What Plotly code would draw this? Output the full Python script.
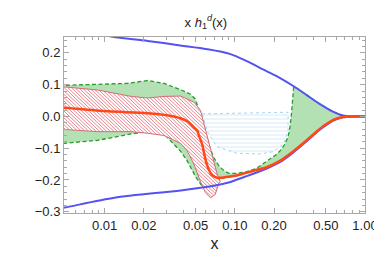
import numpy as np
import plotly.graph_objects as go

# ---------------- data ----------------
# blue upper bound curve
bu_x = [0.0105, 0.0122, 0.0214, 0.0381, 0.0613, 0.0916, 0.1236, 0.1665, 0.2093, 0.2834, 0.355, 0.445, 0.566, 0.675, 0.804, 1.0]
bu_y = [0.254, 0.249, 0.2376, 0.2236, 0.2118, 0.197, 0.174, 0.147, 0.127, 0.095, 0.068, 0.04, 0.015, 0.003, 0.0, 0.0]

# blue lower bound curve
bl_x = [0.0045, 0.0049, 0.0119, 0.0384, 0.0689, 0.0911, 0.1236, 0.176, 0.222, 0.2806, 0.355, 0.447, 0.566, 0.675, 0.804, 1.0]
bl_y = [-0.289, -0.287, -0.256, -0.233, -0.218, -0.207, -0.188, -0.164, -0.144, -0.114, -0.079, -0.043, -0.014, -0.003, 0.0, 0.0]

# red central curve
rc_x = [0.0045, 0.0049, 0.0106, 0.0214, 0.0341, 0.0431, 0.0485, 0.0515, 0.053, 0.0563, 0.0595, 0.0632, 0.0669, 0.0731,
        0.0774, 0.09, 0.1035, 0.139, 0.176, 0.222, 0.2806, 0.355, 0.447, 0.566, 0.675, 0.804, 1.0]
rc_y = [0.028, 0.027, 0.016, 0.01, 0.0, -0.015, -0.035, -0.045, -0.06, -0.09, -0.135, -0.168, -0.185, -0.193,
        -0.193, -0.19, -0.186, -0.171, -0.16, -0.14, -0.11, -0.076, -0.04, -0.012, -0.002, 0.0, 0.0]

# red hatched band (upper edge left->right, lower edge)
rb_up_x = [0.0045, 0.0049, 0.0089, 0.016, 0.0214, 0.0286, 0.0384, 0.0457, 0.0485, 0.0545, 0.0578, 0.0649, 0.0731, 0.0774]
rb_up_y = [0.094, 0.093, 0.083, 0.063, 0.058, 0.063, 0.064, 0.05, 0.045, 0.019, -0.022, -0.101, -0.181, -0.205]
rb_lo_x = [0.0045, 0.0049, 0.0089, 0.016, 0.0214, 0.0286, 0.0384, 0.0431, 0.0485, 0.0545, 0.0595, 0.065, 0.0707, 0.0752]
rb_lo_y = [-0.04, -0.04, -0.048, -0.048, -0.053, -0.06, -0.085, -0.108, -0.15, -0.205, -0.24, -0.256, -0.246, -0.211]

# green band: upper (dashed) edge, lower (dashed) edge
gb_up_x = [0.0045, 0.0049, 0.0089, 0.015, 0.0214, 0.0286, 0.0384, 0.0457, 0.0496, 0.0532, 0.0582, 0.0635, 0.0692,
           0.0757, 0.0826, 0.0901, 0.104, 0.1236, 0.147, 0.176, 0.205, 0.222, 0.24, 0.2565, 0.266, 0.2726, 0.2834]
gb_up_y = [0.098, 0.098, 0.101, 0.104, 0.113, 0.104, 0.084, 0.07, 0.055, 0.02, -0.032, -0.091, -0.131,
           -0.156, -0.171, -0.179, -0.179, -0.174, -0.163, -0.142, -0.122, -0.109, -0.09, -0.065, -0.03, 0.01, 0.095]
gb_lo_x = [0.0045, 0.0049, 0.0089, 0.016, 0.0214, 0.0286, 0.0341, 0.0384, 0.0431, 0.05, 0.055, 0.062, 0.07, 0.0774]
gb_lo_y = [-0.086, -0.085, -0.075, -0.055, -0.048, -0.055, -0.088, -0.11, -0.14, -0.19, -0.215, -0.22, -0.205, -0.196]

# light blue hatched region
lb_x = [0.056, 0.1, 0.2566, 0.2566, 0.237, 0.198, 0.155, 0.1035, 0.0731, 0.062, 0.056]
lb_y = [0.008, 0.01, 0.013, -0.046, -0.087, -0.111, -0.118, -0.116, -0.096, -0.05, 0.008]

x_tick_vals = [0.01, 0.02, 0.05, 0.1, 0.2, 0.5, 1.0]
x_tick_text = ["0.01", "0.02", "0.05", "0.10", "0.20", "0.50", "1.00"]
x_minor_vals = [0.006, 0.007, 0.008, 0.009, 0.03, 0.04, 0.06, 0.07, 0.08, 0.09, 0.3, 0.4, 0.6, 0.7, 0.8, 0.9]
y_tick_vals = [-0.3, -0.2, -0.1, 0.0, 0.1, 0.2]
y_tick_text = ["\u22120.3", "\u22120.2", "\u22120.1", "0.0", "0.1", "0.2"]
y_minor_vals = [round(-0.3 + 0.02 * i, 2) for i in range(28)]

X_RANGE = [-2.312, 0]
Y_RANGE = [-0.304, 0.25]
PLOT_W, PLOT_H = 303, 187  # plot-area size in px (382-56-23, 254-29-38)


def hatch_segments(polx, poly, spacing_px=3.6):
    """Diagonal (top-left -> bottom-right) hatch lines clipped to a polygon given in data units."""
    kx = PLOT_W / (X_RANGE[1] - X_RANGE[0])
    ky = PLOT_H / (Y_RANGE[1] - Y_RANGE[0])
    U = np.log10(np.asarray(polx)) * kx
    V = -np.asarray(poly) * ky

    def inside(pu, pv):
        res = np.zeros(pu.shape, dtype=bool)
        n = len(U)
        j = n - 1
        for i in range(n):
            ui, vi, uj, vj = U[i], V[i], U[j], V[j]
            cond = (vi > pv) != (vj > pv)
            with np.errstate(divide="ignore", invalid="ignore"):
                ucross = (uj - ui) * (pv - vi) / (vj - vi) + ui
            res ^= cond & (pu < ucross)
            j = i
        return res

    cmin, cmax = (V - U).min(), (V - U).max()
    xs, ys = [], []
    for c in np.arange(cmin, cmax, spacing_px):
        u = np.arange(U.min(), U.max(), 0.2)
        v = u + c
        m = inside(u, v)
        if not m.any():
            continue
        idx = np.flatnonzero(np.diff(np.concatenate([[0], m.astype(int), [0]])))
        for s, e in zip(idx[::2], idx[1::2]):
            xs += [10 ** (u[s] / kx), 10 ** (u[e - 1] / kx), None]
            ys += [-v[s] / ky, -v[e - 1] / ky, None]
    return xs, ys


# ---------------- figure ----------------
fig = go.Figure()

# light blue hatched region
fig.add_trace(go.Scatter(
    x=lb_x, y=lb_y, mode="lines", fill="toself",
    line=dict(color="#a9d3ef", width=1, dash="dot"),
    fillcolor="rgba(255,255,255,0)",
    fillpattern=dict(shape="-", fgcolor="#a9d3ef", size=4, solidity=0.25, fillmode="overlay"),
    hoverinfo="skip", showlegend=False))

# green band polygon: dashed upper edge, then blue upper, then red curve back, then dashed lower edge
g_bu = [(x, y) for x, y in zip(bu_x, bu_y) if x > gb_up_x[-1]]
g_rc = [(x, y) for x, y in zip(rc_x, rc_y) if x > gb_lo_x[-1]][::-1]
gx = list(gb_up_x) + [p[0] for p in g_bu] + [p[0] for p in g_rc] + list(gb_lo_x[::-1])
gy = list(gb_up_y) + [p[1] for p in g_bu] + [p[1] for p in g_rc] + list(gb_lo_y[::-1])
fig.add_trace(go.Scatter(
    x=gx, y=gy, mode="lines", fill="toself",
    fillcolor="#b4e1b4",
    line=dict(color="#2a9a2a", width=1.3, dash="4px,2.5px"),
    hoverinfo="skip", showlegend=False))

# red hatched band: white fill, hatch lines, outline
rx = list(rb_up_x) + list(rb_lo_x[::-1])
ry = list(rb_up_y) + list(rb_lo_y[::-1])
fig.add_trace(go.Scatter(x=rx, y=ry, mode="lines", fill="toself", fillcolor="white",
                         line=dict(width=0), hoverinfo="skip", showlegend=False))
hx, hy = hatch_segments(rx, ry)
fig.add_trace(go.Scatter(x=hx, y=hy, mode="lines", line=dict(color="#e8858f", width=1),
                         hoverinfo="skip", showlegend=False, connectgaps=False))
fig.add_trace(go.Scatter(x=rx, y=ry, mode="lines", line=dict(color="#d46a78", width=1),
                         hoverinfo="skip", showlegend=False))

# blue bound curves
fig.add_trace(go.Scatter(x=bu_x, y=bu_y, mode="lines", line=dict(color="#5353f2", width=2, shape="spline", smoothing=0.8),
                         hoverinfo="skip", showlegend=False))
fig.add_trace(go.Scatter(x=bl_x, y=bl_y, mode="lines", line=dict(color="#5353f2", width=2, shape="spline", smoothing=0.8),
                         hoverinfo="skip", showlegend=False))
# red central curve
fig.add_trace(go.Scatter(x=rc_x, y=rc_y, mode="lines", line=dict(color="#ff4818", width=2.5, shape="spline", smoothing=0.8),
                         hoverinfo="skip", showlegend=False))

axis_common = dict(showline=True, linecolor="#a8a8a8", linewidth=1, mirror="ticks", ticks="inside",
                   tickcolor="#a8a8a8", showgrid=False, zeroline=False,
                   tickfont=dict(family="Liberation Sans, Arial, sans-serif", size=13, color="#222"))

fig.update_layout(
    width=382, height=254,
    margin=dict(l=56, r=23, t=29, b=38),
    paper_bgcolor="white", plot_bgcolor="white",
    font=dict(family="Liberation Sans, Arial, sans-serif", size=13, color="#222"),
    title=dict(text="x <i>h</i><sub>1</sub><sup><i>d</i></sup>(x)", x=0.518, xanchor="center",
               y=0.945, yanchor="middle", font=dict(size=13)),
    xaxis=dict(type="log", range=X_RANGE, tickmode="array", tickvals=x_tick_vals, ticktext=x_tick_text,
               ticklen=5, minor=dict(tickmode="array", tickvals=x_minor_vals, ticklen=3, tickcolor="#a8a8a8", ticks="inside"),
               title=dict(text="x", standoff=6), **axis_common),
    yaxis=dict(range=Y_RANGE, tickmode="array", tickvals=y_tick_vals, ticktext=y_tick_text,
               ticklen=5, minor=dict(tickmode="array", tickvals=y_minor_vals, ticklen=3, tickcolor="#a8a8a8", ticks="inside"),
               **axis_common),
)

fig.write_html("out.html")
